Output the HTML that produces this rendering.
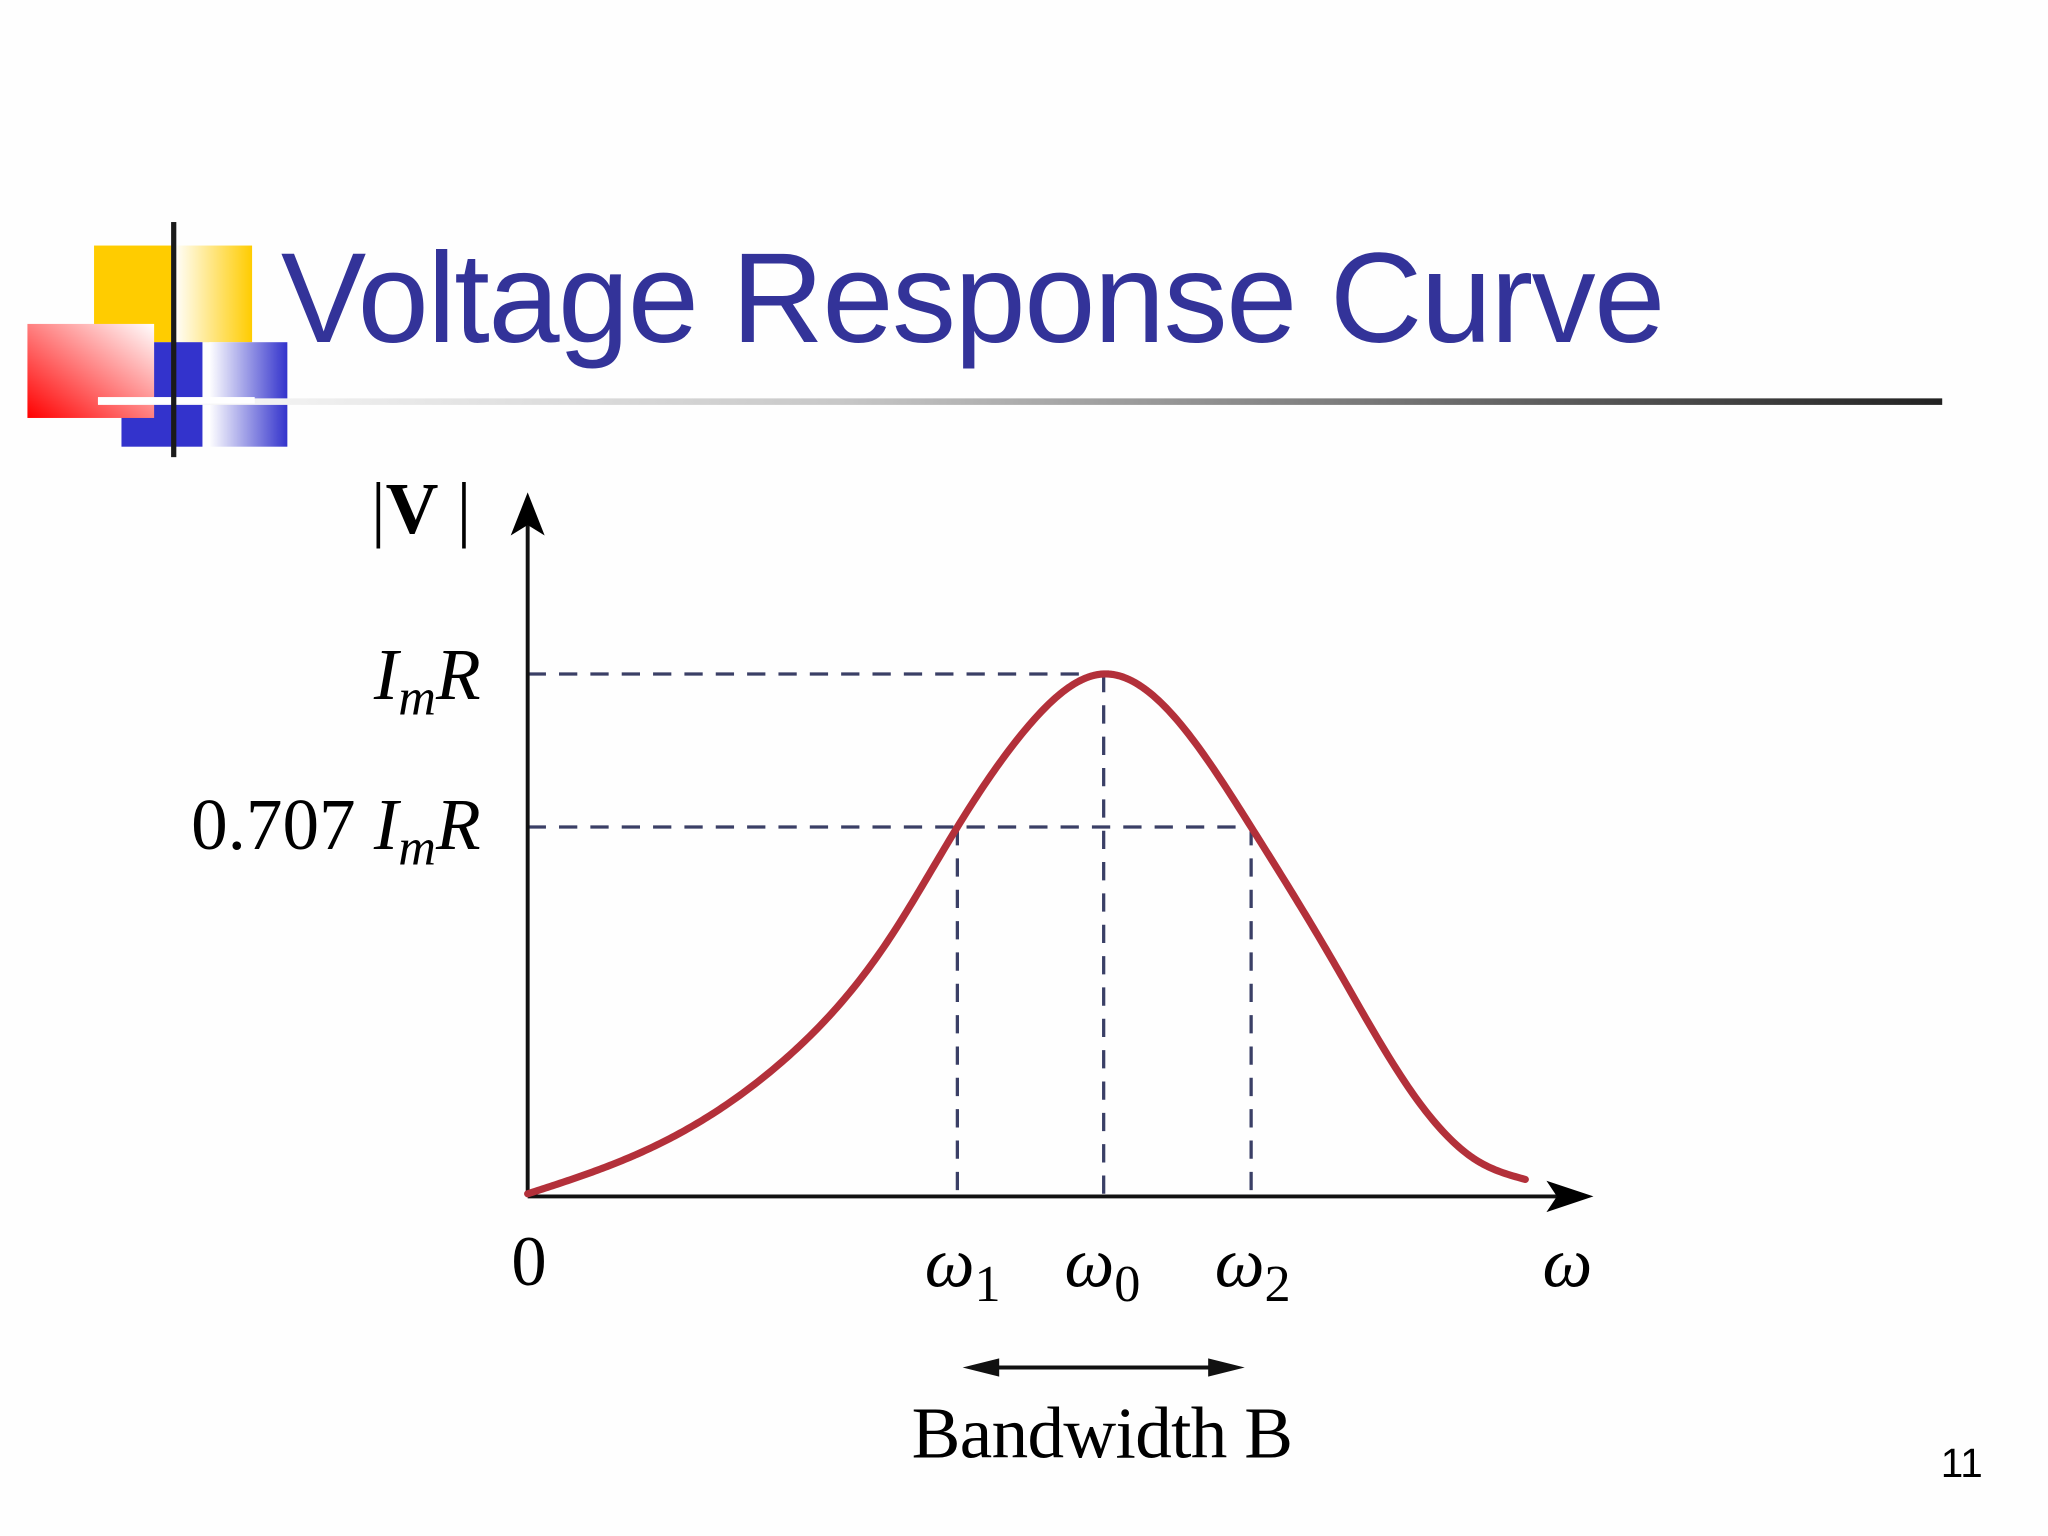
<!DOCTYPE html>
<html><head><meta charset="utf-8"><style>
html,body{margin:0;padding:0;background:#fefefe;}
svg{display:block;}
.serif{font-family:"Liberation Serif",serif;}
</style></head><body>
<svg id="slide" width="2048" height="1536" viewBox="0 0 1568 1176" xmlns="http://www.w3.org/2000/svg">
<defs>
<linearGradient id="yg" x1="0" x2="1" y1="0" y2="0"><stop offset="0" stop-color="#fff"/><stop offset="1" stop-color="#ffcc00"/></linearGradient>
<linearGradient id="bg" x1="0" x2="1" y1="0" y2="0"><stop offset="0" stop-color="#fff"/><stop offset="1" stop-color="#3333cc"/></linearGradient>
<linearGradient id="rg" x1="0" x2="1" y1="1" y2="0"><stop offset="0" stop-color="#ff0000"/><stop offset="1" stop-color="#fff"/></linearGradient>
<linearGradient id="lg" x1="0" x2="1" y1="0" y2="0"><stop offset="0" stop-color="#fff"/><stop offset="0.4" stop-color="#c8c8c8"/><stop offset="1" stop-color="#222"/></linearGradient>
</defs>
<rect x="0" y="0" width="1568" height="1176" fill="#fefefe"/>
<g>
<rect x="72" y="188" width="61" height="74" fill="#ffcc00"/>
<rect x="133" y="188" width="60" height="74" fill="url(#yg)"/>
<rect x="93" y="262" width="62" height="80" fill="#3333cc"/>
<rect x="160" y="262" width="60" height="80" fill="url(#bg)"/>
<rect x="21" y="248" width="97" height="72" fill="url(#rg)"/>
<rect x="75" y="305" width="1412" height="5" fill="url(#lg)"/>
<rect x="75" y="304" width="120" height="5" fill="#fff"/>
<rect x="131" y="170" width="4" height="180" fill="#1a1a1a"/>
</g>
<text x="215" y="262" font-family="Liberation Sans, sans-serif" font-size="98" fill="#333399" textLength="1060">Voltage Response Curve</text>

<g id="chart"></g>

<text class="serif" x="284" y="408" font-size="56"><tspan>|</tspan><tspan font-weight="bold">V</tspan><tspan> |</tspan></text>
<text class="serif" x="368" y="535" font-size="56" text-anchor="end" font-style="italic">I<tspan font-size="40" dy="12">m</tspan><tspan dy="-12">R</tspan></text>
<text class="serif" x="368" y="650" font-size="56" text-anchor="end">0.707 <tspan font-style="italic">I</tspan><tspan font-size="40" dy="12" font-style="italic">m</tspan><tspan dy="-12" font-style="italic">R</tspan></text>
<text class="serif" x="405" y="984" font-size="54" text-anchor="middle">0</text>
<text class="serif" x="708" y="985" font-size="54" font-style="italic">ω<tspan font-style="normal" font-size="40" dy="11">1</tspan></text>
<text class="serif" x="815" y="985" font-size="54" font-style="italic">ω<tspan font-style="normal" font-size="40" dy="11">0</tspan></text>
<text class="serif" x="930" y="985" font-size="54" font-style="italic">ω<tspan font-style="normal" font-size="40" dy="11">2</tspan></text>
<text class="serif" x="1200" y="985" font-size="54" font-style="italic" text-anchor="middle">ω</text>
<g>
<line x1="755" y1="1047" x2="935" y2="1047" stroke="#111" stroke-width="3"/>
<polygon points="737,1047 765,1040 765,1054" fill="#111"/>
<polygon points="953,1047 925,1040 925,1054" fill="#111"/>
</g>
<text class="serif" x="844" y="1116" font-size="56" text-anchor="middle" textLength="292">Bandwidth B</text>
<text x="1502" y="1131" font-family="Liberation Sans, sans-serif" font-size="31" text-anchor="middle">11</text>
</svg>
<script>
// data: omega normalized to omega0 = 1, |V| normalized to ImR = 1
const omegaValues = [0, 0.218, 0.444, 0.626, 0.746, 0.871, 1, 1.125, 1.256, 1.397, 1.533, 1.646, 1.732];
const voltageValues = [0.005, 0.095, 0.26, 0.49, 0.707, 0.9025, 1, 0.915, 0.707, 0.4525, 0.2025, 0.07, 0.0325];
const markerOmegas = [0.746, 1, 1.256];
const markerLevels = [1, 0.707];

const NS = 'http://www.w3.org/2000/svg';
const g = document.getElementById('chart');
const X0 = 404, XW = 441, Y0 = 916, YH = 400;
function sx(w){ return X0 + w * XW; }
function sy(v){ return Y0 - v * YH; }
function mk(tag, attrs){ const e = document.createElementNS(NS, tag); for (const k in attrs) e.setAttribute(k, attrs[k]); g.appendChild(e); return e; }

// natural cubic spline
const n = omegaValues.length;
const M = (function(){
  const h = [];
  for (let i=0;i<n-1;i++) h[i] = omegaValues[i+1]-omegaValues[i];
  const m = new Array(n).fill(0);
  const A=[],B=[],C=[],D=[];
  for (let i=1;i<n-1;i++){ A.push(h[i-1]); B.push(2*(h[i-1]+h[i])); C.push(h[i]); D.push(6*((voltageValues[i+1]-voltageValues[i])/h[i]-(voltageValues[i]-voltageValues[i-1])/h[i-1])); }
  const k = B.length;
  for (let i=1;i<k;i++){ const w=A[i]/B[i-1]; B[i]-=w*C[i-1]; D[i]-=w*D[i-1]; }
  const s = new Array(k);
  s[k-1]=D[k-1]/B[k-1];
  for (let i=k-2;i>=0;i--) s[i]=(D[i]-C[i]*s[i+1])/B[i];
  for (let i=0;i<k;i++) m[i+1]=s[i];
  return m;
})();
function vAt(w){
  let i = 0;
  while (i < n-2 && w > omegaValues[i+1]) i++;
  const h = omegaValues[i+1]-omegaValues[i];
  const t1 = omegaValues[i+1]-w, t0 = w-omegaValues[i];
  return M[i]*t1*t1*t1/(6*h) + M[i+1]*t0*t0*t0/(6*h) + (voltageValues[i]/h - M[i]*h/6)*t1 + (voltageValues[i+1]/h - M[i+1]*h/6)*t0;
}

markerLevels.forEach((lv) => {
  let wEnd = 0;
  markerOmegas.forEach(w => { if (Math.abs(vAt(w) - lv) < 0.03) wEnd = Math.max(wEnd, w); });
  const l = mk('line', {x1: sx(0), x2: sx(wEnd), y1: sy(lv), y2: sy(lv), stroke: '#3a3f66', 'stroke-width': 2.5, 'stroke-dasharray': '14 10'});
  
  
});
markerOmegas.forEach((w) => {
  const l = mk('line', {x1: sx(w), x2: sx(w), y1: sy(vAt(w)), y2: sy(0), stroke: '#3a3f66', 'stroke-width': 2.5, 'stroke-dasharray': '14 10'});
  
  
});
const xa = mk('line', {x1: sx(0), y1: sy(0), x2: 1200, y2: sy(0), stroke: '#111', 'stroke-width': 3});


const xh = mk('polygon', {points: '1220,916 1184,904 1192,916 1184,928', fill: '#000'});


const ya = mk('line', {x1: sx(0), y1: sy(0), x2: sx(0), y2: 395, stroke: '#111', 'stroke-width': 3});


const yh = mk('polygon', {points: '404,377 391,410 404,402 417,410', fill: '#000'});



let d = '';
const wMax = omegaValues[n-1];
const steps = 400;
for (let s = 0; s <= steps; s++) {
  const w = wMax * s / steps;
  d += (s ? ' L' : 'M') + sx(w).toFixed(2) + ',' + sy(vAt(w)).toFixed(2);
}
const curve = mk('path', {d: d, fill: 'none', stroke: '#b3303a', 'stroke-width': 5.5, 'stroke-linecap': 'round', 'stroke-linejoin': 'round'});


</script>
</body></html>
